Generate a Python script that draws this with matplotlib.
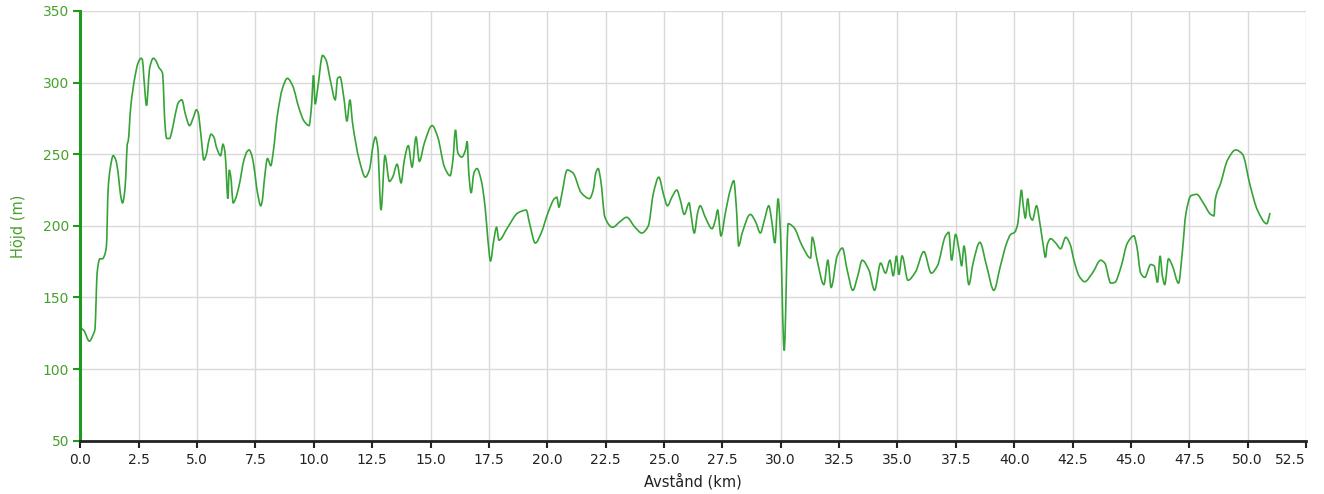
import matplotlib
matplotlib.use("Agg")
import matplotlib.pyplot as plt
import numpy as np
from matplotlib.path import Path
from matplotlib.patches import PathPatch
from matplotlib.ticker import FormatStrFormatter

dist_km = [
    0.00, 0.15, 0.39, 0.55, 0.63, 0.68, 0.72, 0.84, 0.95, 1.05, 1.12, 1.19, 1.28, 1.41, 1.52, 1.62, 1.72, 1.81,
    1.88, 1.95, 2.01, 2.05, 2.16, 2.34, 2.48, 2.60, 2.66, 2.72, 2.84, 2.90, 2.96, 3.13, 3.25, 3.35, 3.53, 3.59,
    3.64, 3.70, 3.82, 3.95, 4.07, 4.20, 4.35, 4.50, 4.68, 4.85, 4.97, 5.05, 5.11, 5.20, 5.29, 5.40, 5.50, 5.60,
    5.72, 5.83, 6.01, 6.11, 6.17, 6.22, 6.32, 6.38, 6.44, 6.55, 6.65, 6.80, 7.01, 7.15, 7.23, 7.35, 7.44, 7.59,
    7.73, 7.80, 7.87, 8.02, 8.16, 8.26, 8.44, 8.66, 8.87, 9.09, 9.37, 9.59, 9.80, 9.90, 9.99, 10.06, 10.16, 10.38,
    10.52, 10.73, 10.92, 11.02, 11.12, 11.30, 11.42, 11.55, 11.66, 11.95, 12.21, 12.38, 12.55, 12.64, 12.74, 12.88,
    13.05, 13.24, 13.38, 13.57, 13.74, 13.88, 14.05, 14.21, 14.38, 14.52, 14.74, 15.07, 15.31, 15.60, 15.84, 15.96,
    16.07, 16.17, 16.34, 16.50, 16.57, 16.64, 16.74, 16.86, 16.99, 17.17, 17.34, 17.46, 17.57, 17.71, 17.83, 17.93,
    18.31, 18.74, 19.10, 19.24, 19.49, 19.74, 20.03, 20.31, 20.41, 20.50, 20.60, 20.86, 21.10, 21.46, 21.81, 21.97,
    22.08, 22.18, 22.29, 22.47, 22.80, 23.12, 23.40, 23.76, 24.05, 24.33, 24.55, 24.78, 24.98, 25.15, 25.34, 25.55,
    25.70, 25.87, 26.08, 26.15, 26.30, 26.44, 26.55, 26.77, 27.06, 27.20, 27.30, 27.44, 27.63, 27.84, 27.99, 28.10,
    28.20, 28.35, 28.70, 28.92, 29.13, 29.30, 29.49, 29.62, 29.75, 29.89, 29.99, 30.15, 30.32, 30.56, 30.92, 31.28,
    31.35, 31.56, 31.85, 32.02, 32.16, 32.42, 32.64, 32.85, 33.09, 33.30, 33.49, 33.78, 34.02, 34.28, 34.49, 34.68,
    34.82, 34.96, 35.06, 35.20, 35.45, 35.78, 36.13, 36.45, 36.71, 37.06, 37.20, 37.32, 37.49, 37.66, 37.75, 37.85,
    38.06, 38.24, 38.53, 38.82, 39.13, 39.41, 39.68, 39.85, 40.02, 40.16, 40.23, 40.31, 40.39, 40.48, 40.58, 40.68,
    40.78, 40.96, 41.10, 41.23, 41.34, 41.42, 41.56, 41.78, 41.99, 42.21, 42.40, 42.56, 42.78, 43.02, 43.35, 43.71,
    43.88, 44.14, 44.31, 44.57, 44.85, 45.13, 45.25, 45.42, 45.59, 45.85, 46.00, 46.14, 46.25, 46.35, 46.45, 46.61,
    46.78, 47.04, 47.21, 47.35, 47.57, 47.82, 48.10, 48.42, 48.56, 48.61, 48.85, 49.14, 49.49, 49.78, 50.11, 50.42,
    50.82, 50.96,
]

elev_m = [
    129, 127, 119.5, 124, 128, 150, 167, 177, 177, 180, 186, 225, 240, 249, 246, 237, 222, 216,
    221, 235, 257, 259, 283, 304, 314, 317, 316, 304, 284, 295, 309, 317, 315, 311, 306, 283,
    268, 261, 261, 268, 278, 286, 288, 278, 270, 276, 281, 279, 272, 258, 246, 250, 259, 264,
    262, 255, 249, 257, 254, 247, 219, 239, 235, 216, 219, 228, 246, 252, 253, 249, 241, 223,
    214, 218, 230, 247, 242, 251, 277, 296, 303, 298, 282, 273, 270, 283, 305, 285, 295, 319,
    316, 300, 288, 303, 304, 288, 273, 288, 272, 246, 234, 239, 257, 262, 255, 211,
    249, 231, 234, 243, 230, 246, 256, 241, 262, 245, 258, 270, 262, 241, 235, 246,
    267, 251, 248, 253, 259, 237, 223, 237, 240, 232, 213, 190, 175.5, 190, 199, 190,
    199, 209, 211, 202, 188, 195, 209, 219, 220, 213, 220, 239, 237, 223, 219, 225,
    237, 240, 232, 206, 199, 203, 206, 199, 195, 200, 223, 234, 222, 214, 220, 225,
    218, 208, 216, 209, 195, 209, 214, 206, 198, 204, 211, 193, 209, 225, 231.5, 213,
    186, 195, 208, 203, 195, 204, 214, 203, 188, 219, 195, 113, 201.5, 199, 186, 177.5,
    192, 176, 159, 176, 157, 179, 184.5, 169, 155, 165, 176, 169, 155, 174, 167, 176,
    165, 179, 166, 179, 162, 168, 182, 167, 172, 193, 195.5, 176, 194, 181, 172, 186,
    159, 174, 188.5, 172, 155, 172, 188, 194, 195.5, 202, 214, 225, 214, 205.5, 219, 207,
    204, 214, 202, 188, 178, 187, 191, 188, 184, 192, 187, 176, 165, 161, 167, 176,
    174, 160, 160.5, 171, 188, 193, 186, 167, 164, 173, 172, 160.5, 179, 165, 159, 177,
    172, 160, 183, 208, 221, 222, 216, 208, 207, 218, 230, 246, 253, 250, 228, 211,
    201.5, 209,
]

x_ticks = [0.0, 2.5, 5.0, 7.5, 10.0, 12.5, 15.0, 17.5, 20.0, 22.5, 25.0, 27.5, 30.0,
           32.5, 35.0, 37.5, 40.0, 42.5, 45.0, 47.5, 50.0, 52.5]
y_ticks = [50, 100, 150, 200, 250, 300, 350]

line_color = "#36a336"
axis_green = "#1f9a1f"
label_green = "#48a02c"

fig = plt.figure(figsize=(13.24, 4.94), dpi=100)
ax = fig.add_axes([80.3 / 1324, 53.3 / 494, (1306 - 80.3) / 1324, (440.7 - 11) / 494])

# smooth rendering of the profile through the data points (monotone cubic Bezier segments)
x = np.asarray(dist_km, float)
y = np.asarray(elev_m, float)
h = np.diff(x)
d = np.diff(y) / h
m = np.zeros_like(y)
for i in range(1, len(y) - 1):
    if d[i - 1] * d[i] > 0:
        w1 = 2 * h[i] + h[i - 1]
        w2 = h[i] + 2 * h[i - 1]
        m[i] = (w1 + w2) / (w1 / d[i - 1] + w2 / d[i])
m[0] = d[0]
m[-1] = d[-1]
verts = [(x[0], y[0])]
codes = [Path.MOVETO]
for i in range(len(x) - 1):
    hi = h[i]
    verts += [(x[i] + hi / 3, y[i] + m[i] * hi / 3),
              (x[i + 1] - hi / 3, y[i + 1] - m[i + 1] * hi / 3),
              (x[i + 1], y[i + 1])]
    codes += [Path.CURVE4] * 3
ax.add_patch(PathPatch(Path(verts, codes), facecolor="none", edgecolor=line_color,
                       lw=1.2, zorder=3))

ax.set_xlim(0, 52.5)
ax.set_ylim(50, 350)
ax.set_xticks(x_ticks)
ax.set_yticks(y_ticks)
ax.xaxis.set_major_formatter(FormatStrFormatter("%.1f"))

ax.grid(True, color="#d9d9d9", lw=1.0, zorder=0)
ax.set_axisbelow(True)

for s in ["top", "right"]:
    ax.spines[s].set_visible(False)
ax.spines["left"].set_color(axis_green)
ax.spines["left"].set_linewidth(2.2)
ax.spines["bottom"].set_color("#222222")
ax.spines["bottom"].set_linewidth(2.0)
ax.spines["left"].set_zorder(4)
ax.spines["bottom"].set_zorder(4)

ax.tick_params(axis="y", colors=axis_green, labelcolor=label_green, direction="out",
               length=5, width=1.5, labelsize=10, pad=3)
ax.tick_params(axis="x", colors="#222222", labelcolor="#222222", direction="out",
               length=5, width=1.5, labelsize=10, pad=4)

labels = ax.get_xticklabels()
labels[-1].set_horizontalalignment("right")

ax.set_xlabel("Avstånd (km)", fontsize=10.5, color="#222222", labelpad=4)
ax.set_ylabel("Höjd (m)", fontsize=10.5, color=label_green, labelpad=12)

fig.savefig("out.png", dpi=100, facecolor="white")
